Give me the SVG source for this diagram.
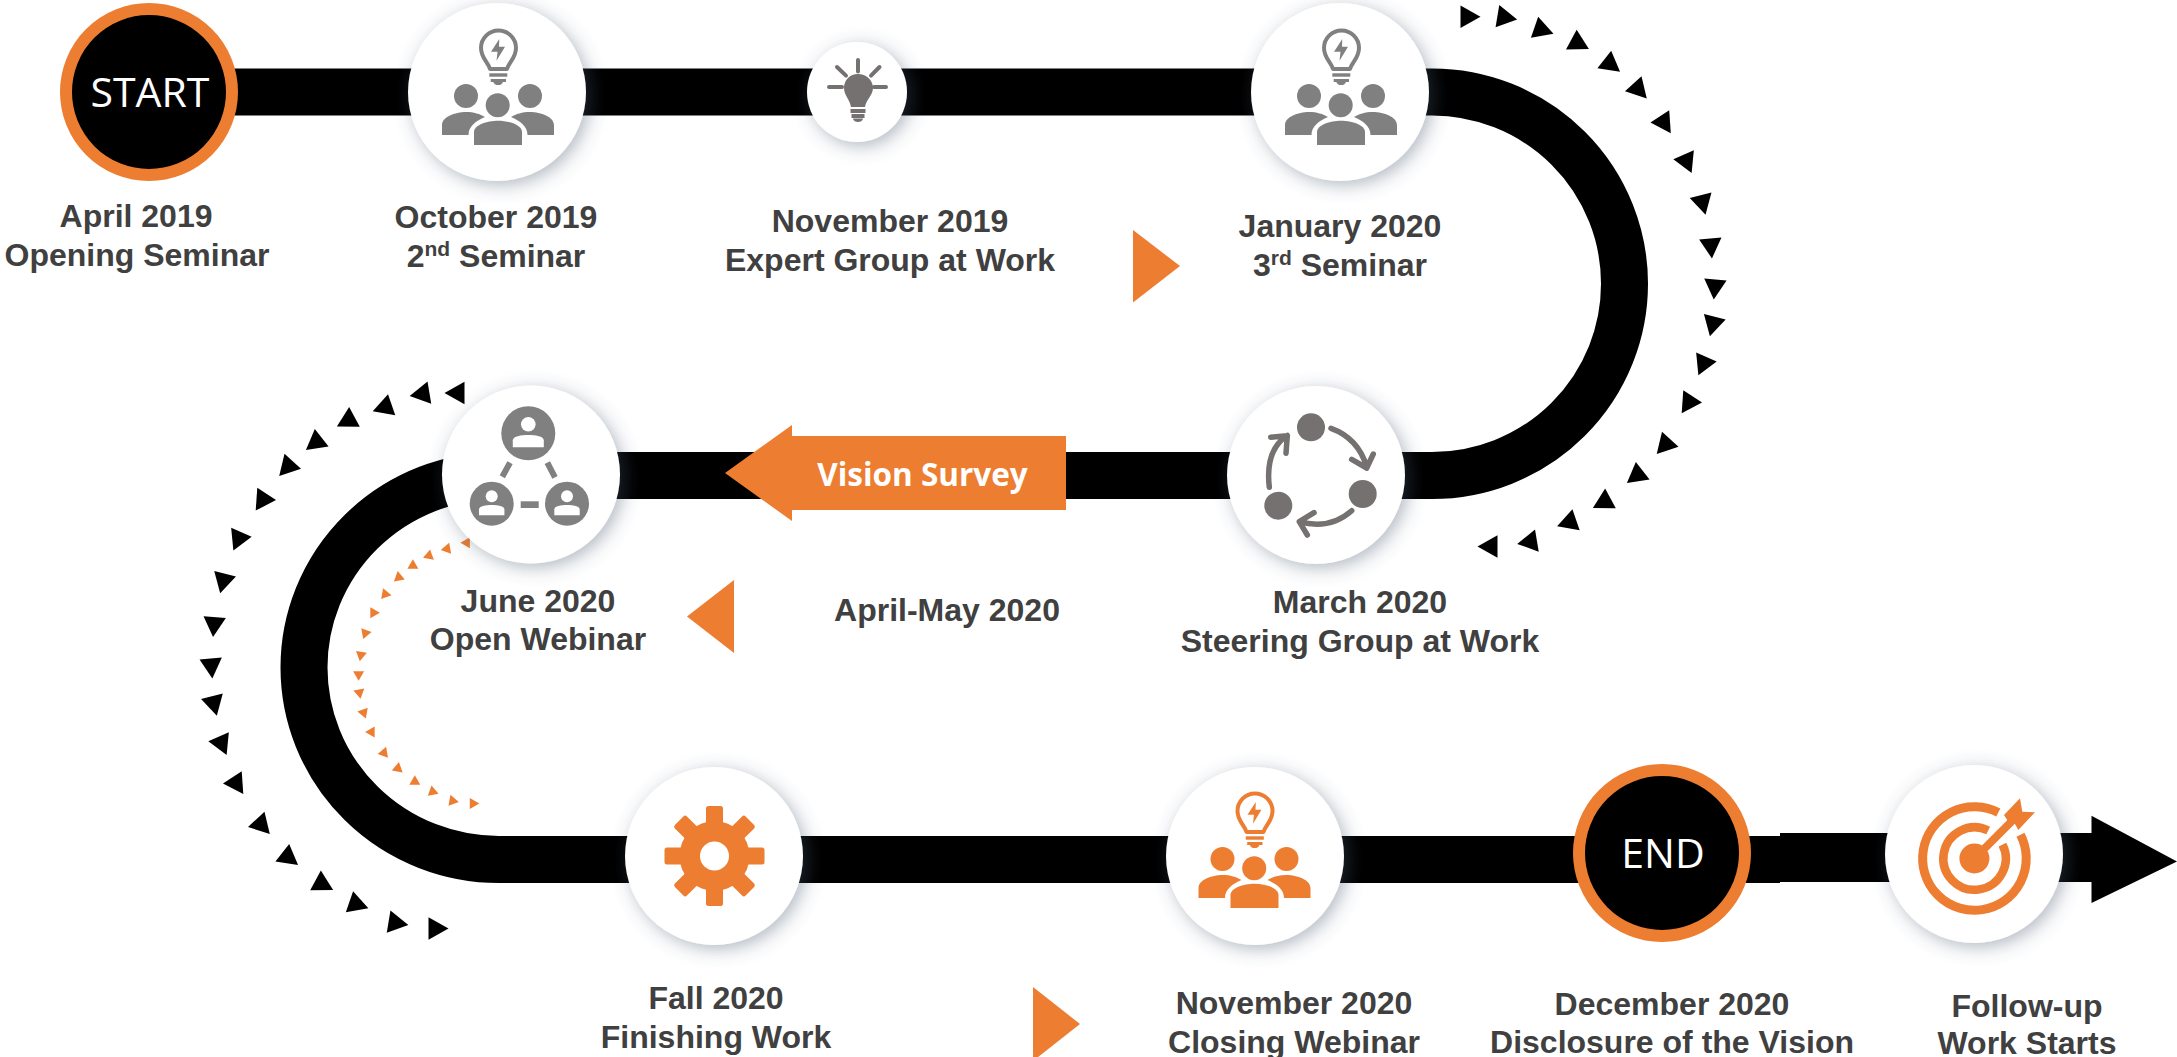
<svg xmlns="http://www.w3.org/2000/svg" width="2177" height="1057" viewBox="0 0 2177 1057">
<style>
.t{font-family:"Liberation Sans",Arial,sans-serif;font-weight:700;font-size:32px;fill:#404040;text-anchor:middle}
.s{font-size:21px}
.disc{fill:#fff;filter:url(#sh)}
.ring{fill:#000;stroke:#ed7d31;stroke-width:12}
.cap{font-family:"Open Sans",sans-serif;font-size:41px;fill:#fff;text-anchor:middle}
.or{fill:#ed7d31}
.bk{fill:#000}
.g1{fill:#808080}
.g2{fill:#767171}
.arw{fill:none;stroke:#767171;stroke-width:5.5;stroke-linecap:round;stroke-linejoin:round}
</style>
<defs>
<filter id="sh" x="-30%" y="-30%" width="160%" height="160%"><feDropShadow dx="4" dy="4" stdDeviation="9" flood-color="#44546a" flood-opacity=".42"/></filter>
<polygon id="tb" points="11.5,0 -8.5,-11.2 -8.5,11.2"/>
<polygon id="ts" points="5.3,0 -4.2,-5.5 -4.2,5.5"/>
<g id="people" fill="currentColor">
<path d="M-7 -23C-9 -30 -16 -34 -16 -44A17.5 17.5 0 1 1 19 -44C19 -34 12 -30 10 -23Z" fill="none" stroke="currentColor" stroke-width="4" stroke-linejoin="round"/>
<path d="M2.3 -53L-6 -40.3H0.5L-0.5 -31.3L8 -45.3H2Z"/>
<rect x="-7.7" y="-18.7" width="18" height="3.4"/>
<rect x="-6.3" y="-13" width="15.3" height="3"/>
<path d="M-3.7 -10.3H6A5 4.5 0 0 1 -3.7 -10.3Z"/>
<circle cx="-31" cy="4" r="12"/><circle cx="33" cy="4" r="12"/><circle cx="0.7" cy="13.3" r="12"/>
<path d="M-23 53V40C-23 33 -10 28.7 1 28.7C12 28.7 25 33 25 40V53Z"/>
<path d="M-55 43V33C-55 25 -42 20 -31 20C-23 20 -17 22 -12 25C-21 29 -28.5 34 -28.5 43Z"/>
<path d="M57 43V33C57 25 44 20 33 20C25 20 19 22 14 25C23 29 30.5 34 30.5 43Z"/>
</g>
<g id="person"><circle cx="0" cy="-9" r="7.3" fill="#fff"/><path d="M-15.5 14V7C-15.5 3 -7 1.7 0 1.7C7 1.7 15.5 3 15.5 7V14Z" fill="#fff"/></g>
<rect id="tooth" x="-8.5" y="-50" width="17" height="20" rx="2.5" class="or"/>
</defs>

<g id="chevrons-outer">
<use href="#tb" class="bk" transform="translate(1469 16.7)"/>
<use href="#tb" class="bk" transform="translate(1505.8 17.5) rotate(9.5)"/>
<use href="#tb" class="bk" transform="translate(1542.6 30) rotate(18.9)"/>
<use href="#tb" class="bk" transform="translate(1578.8 43.6) rotate(28.4)"/>
<use href="#tb" class="bk" transform="translate(1611 64.7) rotate(37.9)"/>
<use href="#tb" class="bk" transform="translate(1639 90) rotate(47.4)"/>
<use href="#tb" class="bk" transform="translate(1664.5 123.6) rotate(56.8)"/>
<use href="#tb" class="bk" transform="translate(1687 162.5) rotate(66.3)"/>
<use href="#tb" class="bk" transform="translate(1702.7 203.6) rotate(75.8)"/>
<use href="#tb" class="bk" transform="translate(1711 247) rotate(85.3)"/>
<use href="#tb" class="bk" transform="translate(1714.7 288) rotate(94.7)"/>
<use href="#tb" class="bk" transform="translate(1712.7 325) rotate(104.2)"/>
<use href="#tb" class="bk" transform="translate(1703 364.7) rotate(113.7)"/>
<use href="#tb" class="bk" transform="translate(1688 403.6) rotate(123.2)"/>
<use href="#tb" class="bk" transform="translate(1664.5 445.5) rotate(132.6)"/>
<use href="#tb" class="bk" transform="translate(1636 476) rotate(142.1)"/>
<use href="#tb" class="bk" transform="translate(1603 502.5) rotate(151.6)"/>
<use href="#tb" class="bk" transform="translate(1568 522.5) rotate(161.1)"/>
<use href="#tb" class="bk" transform="translate(1528.5 542) rotate(170.5)"/>
<use href="#tb" class="bk" transform="translate(1489 546.5) rotate(180)"/>

<use href="#tb" class="bk" transform="translate(456 393) rotate(180)"/>
<use href="#tb" class="bk" transform="translate(421 394) rotate(170.5)"/>
<use href="#tb" class="bk" transform="translate(383.6 407.5) rotate(161.1)"/>
<use href="#tb" class="bk" transform="translate(347 421) rotate(151.6)"/>
<use href="#tb" class="bk" transform="translate(315 443) rotate(142.1)"/>
<use href="#tb" class="bk" transform="translate(287 467.5) rotate(132.6)"/>
<use href="#tb" class="bk" transform="translate(262 501) rotate(123.2)"/>
<use href="#tb" class="bk" transform="translate(238 540) rotate(113.7)"/>
<use href="#tb" class="bk" transform="translate(223 582) rotate(104.2)"/>
<use href="#tb" class="bk" transform="translate(214 625.6) rotate(94.7)"/>
<use href="#tb" class="bk" transform="translate(211.4 667) rotate(85.3)"/>
<use href="#tb" class="bk" transform="translate(214 704.5) rotate(75.8)"/>
<use href="#tb" class="bk" transform="translate(222 744.5) rotate(66.3)"/>
<use href="#tb" class="bk" transform="translate(237 784.5) rotate(56.8)"/>
<use href="#tb" class="bk" transform="translate(262 825.6) rotate(47.4)"/>
<use href="#tb" class="bk" transform="translate(289 858) rotate(37.9)"/>
<use href="#tb" class="bk" transform="translate(323 884.5) rotate(28.4)"/>
<use href="#tb" class="bk" transform="translate(357.5 904.5) rotate(18.9)"/>
<use href="#tb" class="bk" transform="translate(397 923) rotate(9.5)"/>
<use href="#tb" class="bk" transform="translate(437 928.5)"/>
</g>
<g id="chevrons-inner">
<use href="#ts" class="or" transform="translate(465.7 542.7) rotate(180)"/>
<use href="#ts" class="or" transform="translate(446 549) rotate(170)"/>
<use href="#ts" class="or" transform="translate(428 556) rotate(160)"/>
<use href="#ts" class="or" transform="translate(412 566) rotate(150)"/>
<use href="#ts" class="or" transform="translate(398 578) rotate(140)"/>
<use href="#ts" class="or" transform="translate(384.6 595) rotate(130)"/>
<use href="#ts" class="or" transform="translate(373 613.6) rotate(120)"/>
<use href="#ts" class="or" transform="translate(365 634) rotate(110)"/>
<use href="#ts" class="or" transform="translate(360.7 656) rotate(100)"/>
<use href="#ts" class="or" transform="translate(358.6 675.5) rotate(90)"/>
<use href="#ts" class="or" transform="translate(359.6 693.6) rotate(80)"/>
<use href="#ts" class="or" transform="translate(364 713.6) rotate(70)"/>
<use href="#ts" class="or" transform="translate(372 733) rotate(60)"/>
<use href="#ts" class="or" transform="translate(384.6 753.6) rotate(50)"/>
<use href="#ts" class="or" transform="translate(398.6 769) rotate(40)"/>
<use href="#ts" class="or" transform="translate(415.7 782) rotate(30)"/>
<use href="#ts" class="or" transform="translate(433.6 792) rotate(20)"/>
<use href="#ts" class="or" transform="translate(453.6 801) rotate(10)"/>
<use href="#ts" class="or" transform="translate(474 803.5)"/>
</g>

<g id="connectors">
<path d="M149 92H1432A192.5 191.75 0 0 1 1432 475.5H499A195 192 0 0 0 499 859.5H1780" fill="none" stroke="#000" stroke-width="47"/>
<path d="M1780 833H2091.5V815.7L2177 861.5L2091.5 903V882H1780Z" fill="#000"/>
</g>

<g id="markers">
<polygon class="or" points="1133,230 1180,266 1133,302.5"/>
<polygon class="or" points="734,580 687,616.5 734,653"/>
<polygon class="or" points="1033,987 1080,1024 1033,1061"/>
</g>

<g id="n-start">
<circle class="ring" cx="149" cy="92" r="83"/>
<text class="cap" x="150" y="107">START</text>
<text class="t" x="136" y="227">April 2019</text>
<text class="t" x="137" y="266">Opening Seminar</text>
</g>

<g id="n-oct2019">
<circle class="disc" cx="497" cy="92" r="89"/>
<use href="#people" transform="translate(497 92)" color="#808080"/>
<text class="t" x="496" y="228">October 2019</text>
<text class="t" x="496" y="267">2<tspan class="s" dy="-11">nd</tspan><tspan dy="11"> Seminar</tspan></text>
</g>

<g id="n-nov2019">
<circle class="disc" cx="857" cy="92" r="50"/>
<g class="g2">
<path d="M858 74C850 74 844 80 844 88C844 95 850 100 851 107H865C866 100 873 95 873 88C873 80 866 74 858 74Z"/>
<rect x="850.5" y="109" width="15" height="4"/>
<rect x="851.5" y="114" width="13" height="4"/>
<path d="M853 118.5H863A5 3.5 0 0 1 853 118.5Z"/>
</g>
<path d="M858 60V71.6M837 67L846 75.6M879.5 67L871 75.6M829 87H842M874 87H886" fill="none" stroke="#767171" stroke-width="4" stroke-linecap="round"/>
<text class="t" x="890" y="232">November 2019</text>
<text class="t" x="890" y="271">Expert Group at Work</text>
</g>

<g id="n-jan2020">
<circle class="disc" cx="1340" cy="92" r="89"/>
<use href="#people" transform="translate(1340 92)" color="#808080"/>
<text class="t" x="1340" y="237">January 2020</text>
<text class="t" x="1340" y="276">3<tspan class="s" dy="-11">rd</tspan><tspan dy="11"> Seminar</tspan></text>
</g>

<g id="n-mar2020">
<circle class="disc" cx="1316" cy="475" r="89"/>
<circle class="g2" cx="1311" cy="427.3" r="14"/>
<circle class="g2" cx="1362.7" cy="494" r="14"/>
<circle class="g2" cx="1278.3" cy="505.7" r="14"/>
<path class="arw" d="M1331 428.3Q1358 438 1366.7 466.7M1351.7 459.3L1366.7 468L1373.3 454"/>
<path class="arw" d="M1351.7 510.7Q1330 530 1299.3 521.7M1314 512.7L1299.3 521.7L1307.3 535"/>
<path class="arw" d="M1269.3 487.3Q1265 450 1287.3 435.5M1270.7 437.3L1287.3 435.7L1286 453.3"/>
<text class="t" x="1360" y="613">March 2020</text>
<text class="t" x="1360" y="652">Steering Group at Work</text>
</g>

<g id="n-survey">
<polygon class="or" points="725,473 792,425 792,436 1066,436 1066,510 792,510 792,521"/>
<text x="922.5" y="486" font-family="'Open Sans',sans-serif" font-weight="700" font-size="31.5" fill="#fff" text-anchor="middle">Vision Survey</text>
<text class="t" x="947" y="620.5">April-May 2020</text>
</g>

<g id="n-jun2020">
<circle class="disc" cx="531" cy="474.5" r="89"/>
<g class="g1">
<circle cx="528.3" cy="433.3" r="27"/>
<circle cx="491.7" cy="503.7" r="22"/>
<circle cx="567" cy="503.7" r="22"/>
<rect x="520.7" y="501.3" width="18" height="6.7"/>
</g>
<path d="M510 462.7L502.3 476.7M547.3 462.7L555 477.3" stroke="#808080" stroke-width="6" fill="none"/>
<use href="#person" transform="translate(528.3 433.3)"/>
<use href="#person" transform="translate(491.7 503.7) scale(.82)"/>
<use href="#person" transform="translate(567 503.7) scale(.82)"/>
<text class="t" x="538" y="612">June 2020</text>
<text class="t" x="538" y="650">Open Webinar</text>
</g>

<g id="n-fall2020">
<circle class="disc" cx="714" cy="856" r="89"/>
<g transform="translate(714.5 856)">
<use href="#tooth"/><use href="#tooth" transform="rotate(45)"/><use href="#tooth" transform="rotate(90)"/><use href="#tooth" transform="rotate(135)"/><use href="#tooth" transform="rotate(180)"/><use href="#tooth" transform="rotate(225)"/><use href="#tooth" transform="rotate(270)"/><use href="#tooth" transform="rotate(315)"/>
<circle class="or" r="35"/>
<circle r="14.5" fill="#fff"/>
</g>
<text class="t" x="716" y="1009">Fall 2020</text>
<text class="t" x="716" y="1048">Finishing Work</text>
</g>

<g id="n-nov2020">
<circle class="disc" cx="1255" cy="856" r="89"/>
<use href="#people" transform="translate(1253.5 855)" color="#ed7d31"/>
<text class="t" x="1294" y="1014">November 2020</text>
<text class="t" x="1294" y="1053">Closing Webinar</text>
</g>

<g id="n-end">
<circle class="ring" cx="1662" cy="853" r="83"/>
<text class="cap" x="1663" y="868">END</text>
<text class="t" x="1672" y="1015">December 2020</text>
<text class="t" x="1672" y="1053">Disclosure of the Vision</text>
</g>

<g id="n-followup">
<circle class="disc" cx="1974" cy="854" r="89"/>
<path d="M2020.5 834.8A51.8 51.8 0 1 1 1998.3 812.5" fill="none" stroke="#ed7d31" stroke-width="9"/>
<path d="M2002.5 844.7A31.2 31.2 0 1 1 1988.2 830.5" fill="none" stroke="#ed7d31" stroke-width="8.5"/>
<circle class="or" cx="1974.4" cy="858.5" r="15"/>
<path d="M1978 855L2012 821" stroke="#ed7d31" stroke-width="8" fill="none"/>
<polygon class="or" points="2020,798.3 2022.3,811.7 2035,812.3 2018.3,830 2015,824 2008.3,821.7 2004,815"/>
<text class="t" x="2027" y="1017">Follow-up</text>
<text class="t" x="2027" y="1054">Work Starts</text>
</g>
</svg>
